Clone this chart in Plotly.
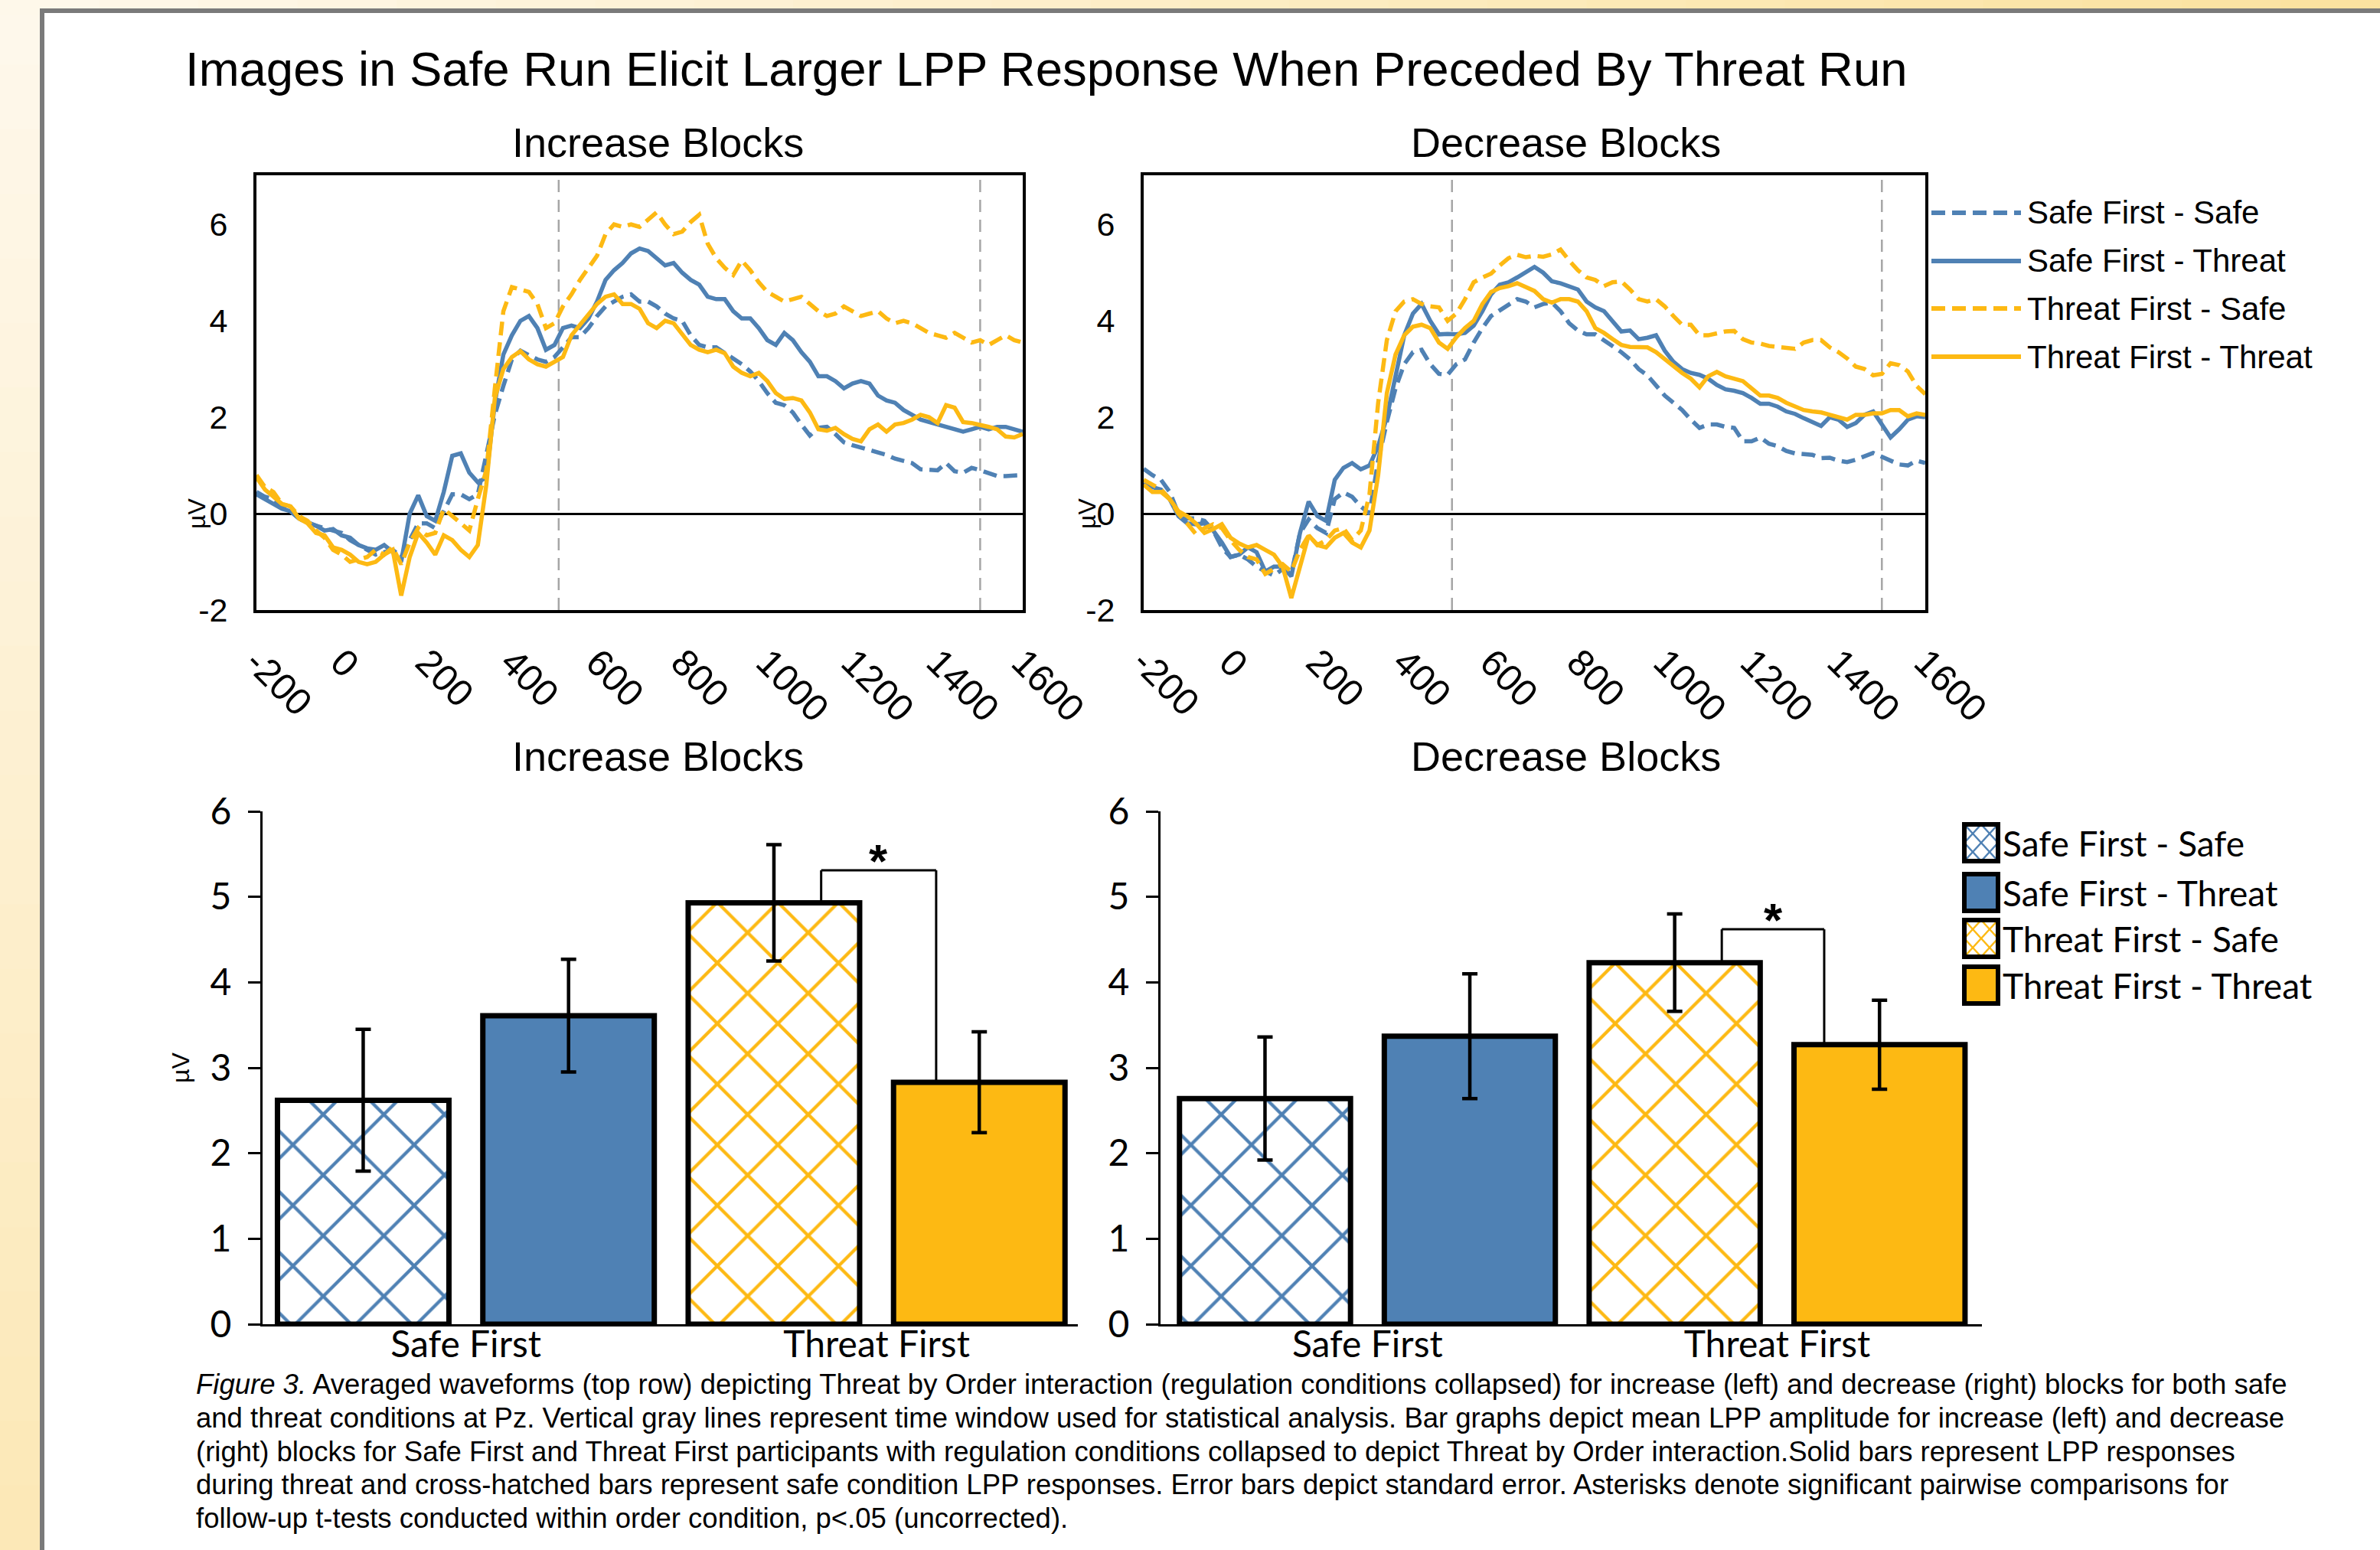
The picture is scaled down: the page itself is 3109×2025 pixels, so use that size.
import plotly.graph_objects as go

W, H = 3109, 2025


def fx(p):
    return p / W


def fy(p):
    return 1 - p / H


# ---------------- DATA ----------------
time_ms = list(range(-200, 1601, 20))
series_names = ["Safe First - Safe", "Safe First - Threat",
                "Threat First - Safe", "Threat First - Threat"]

inc_sf_safe = [0.45, 0.35, 0.30, 0.15, 0.05, -0.10, -0.20, -0.25, -0.30, -0.35,
               -0.40, -0.55, -0.65, -0.75, -0.85, -0.80, -0.75, -0.90, -0.55, -0.20,
               -0.20, -0.30, 0.05, 0.40, 0.40, 0.30, 0.40, 1.20, 2.05, 2.65,
               3.20, 3.38, 3.30, 3.20, 3.15, 3.25, 3.45, 3.66, 3.66, 3.85,
               4.10, 4.30, 4.40, 4.50, 4.55, 4.40, 4.40, 4.30, 4.15, 4.05,
               4.00, 3.70, 3.50, 3.45, 3.45, 3.33, 3.20, 3.10, 2.95, 2.75,
               2.50, 2.30, 2.25, 2.10, 1.85, 1.62, 1.78, 1.80, 1.65, 1.48,
               1.42, 1.38, 1.32, 1.27, 1.22, 1.14, 1.10, 1.05, 0.92, 0.90,
               0.90, 1.05, 0.88, 0.85, 0.95, 0.90, 0.85, 0.78, 0.78, 0.80,
               0.80]
inc_sf_threat = [0.40, 0.30, 0.22, 0.10, 0.05, -0.10, -0.18, -0.25, -0.35, -0.32,
                 -0.45, -0.50, -0.65, -0.72, -0.75, -0.65, -0.80, -1.00, 0.00, 0.38,
                 -0.05, -0.15, 0.45, 1.20, 1.25, 0.85, 0.65, 0.75, 2.30, 3.30,
                 3.70, 4.00, 4.10, 3.85, 3.40, 3.50, 3.85, 3.90, 3.85, 4.05,
                 4.40, 4.85, 5.05, 5.20, 5.40, 5.50, 5.45, 5.30, 5.15, 5.20,
                 5.00, 4.85, 4.75, 4.50, 4.45, 4.45, 4.20, 4.05, 4.05, 3.85,
                 3.60, 3.50, 3.75, 3.60, 3.35, 3.15, 2.85, 2.85, 2.75, 2.60,
                 2.70, 2.75, 2.70, 2.45, 2.35, 2.30, 2.15, 2.05, 1.95, 1.90,
                 1.85, 1.80, 1.75, 1.70, 1.75, 1.80, 1.75, 1.80, 1.80, 1.75,
                 1.70]
inc_tf_safe = [0.80, 0.55, 0.45, 0.20, 0.15, -0.05, -0.15, -0.35, -0.50, -0.75,
               -0.85, -1.00, -0.95, -0.90, -0.75, -0.85, -0.70, -1.05, -0.60, -0.30,
               -0.45, -0.40, 0.10, -0.05, -0.20, -0.35, 0.30, 0.90, 2.60, 4.20,
               4.70, 4.65, 4.60, 4.35, 3.85, 3.95, 4.30, 4.55, 4.85, 5.10,
               5.35, 5.80, 6.00, 5.95, 6.00, 5.95, 6.10, 6.25, 6.00, 5.80,
               5.85, 6.05, 6.20, 5.60, 5.30, 5.10, 4.95, 5.25, 5.05, 4.80,
               4.60, 4.50, 4.40, 4.45, 4.50, 4.35, 4.20, 4.10, 4.15, 4.30,
               4.20, 4.10, 4.15, 4.20, 4.05, 3.95, 4.00, 3.95, 3.85, 3.75,
               3.70, 3.65, 3.75, 3.65, 3.55, 3.60, 3.50, 3.60, 3.70, 3.60,
               3.55]
inc_tf_threat = [0.75, 0.50, 0.35, 0.20, 0.15, -0.10, -0.20, -0.40, -0.45, -0.70,
                 -0.75, -0.85, -1.00, -1.05, -1.00, -0.85, -0.75, -1.70, -0.90, -0.40,
                 -0.60, -0.85, -0.45, -0.55, -0.75, -0.90, -0.65, 0.60, 2.40, 3.00,
                 3.25, 3.37, 3.20, 3.10, 3.05, 3.15, 3.25, 3.70, 3.92, 4.15,
                 4.35, 4.50, 4.55, 4.35, 4.35, 4.25, 3.95, 3.85, 4.00, 3.95,
                 3.72, 3.50, 3.40, 3.35, 3.40, 3.33, 3.05, 2.92, 2.85, 2.92,
                 2.75, 2.50, 2.38, 2.40, 2.35, 2.10, 1.75, 1.72, 1.78, 1.65,
                 1.55, 1.50, 1.75, 1.85, 1.70, 1.85, 1.88, 1.95, 2.05, 2.00,
                 1.88, 2.25, 2.20, 1.90, 1.88, 1.85, 1.80, 1.75, 1.60, 1.58,
                 1.65]

dec_sf_safe = [0.93, 0.80, 0.70, 0.45, 0.00, -0.10, -0.10, -0.15, -0.35, -0.70,
               -0.90, -0.85, -0.95, -1.10, -1.20, -1.28, -1.15, -1.25, -0.40, -0.12,
               -0.30, -0.40, 0.30, 0.44, 0.35, 0.15, 0.00, 1.10, 1.90, 2.60,
               3.10, 3.35, 3.40, 3.10, 2.90, 2.88, 3.10, 3.20, 3.55, 3.85,
               4.10, 4.22, 4.32, 4.45, 4.40, 4.28, 4.35, 4.38, 4.20, 3.95,
               3.80, 3.72, 3.72, 3.60, 3.48, 3.35, 3.20, 3.00, 2.87, 2.65,
               2.45, 2.30, 2.15, 1.95, 1.78, 1.85, 1.85, 1.80, 1.78, 1.50,
               1.50, 1.58, 1.45, 1.40, 1.30, 1.25, 1.23, 1.22, 1.15, 1.16,
               1.10, 1.07, 1.12, 1.20, 1.26, 1.18, 1.10, 1.02, 1.00, 1.10,
               1.05]
dec_sf_threat = [0.63, 0.55, 0.50, 0.30, -0.05, -0.20, -0.22, -0.20, -0.35, -0.60,
                 -0.90, -0.85, -0.70, -0.80, -1.20, -1.10, -1.10, -1.30, -0.40, 0.25,
                 -0.05, -0.15, 0.70, 0.95, 1.05, 0.92, 1.00, 1.40, 2.00, 2.90,
                 3.70, 4.15, 4.35, 4.00, 3.72, 3.73, 3.72, 3.75, 3.90, 4.20,
                 4.55, 4.75, 4.80, 4.90, 5.02, 5.12, 5.00, 4.82, 4.78, 4.72,
                 4.65, 4.40, 4.28, 4.20, 4.00, 3.78, 3.80, 3.62, 3.65, 3.70,
                 3.38, 3.15, 3.00, 2.92, 2.88, 2.80, 2.67, 2.58, 2.55, 2.50,
                 2.40, 2.28, 2.28, 2.22, 2.12, 2.07, 1.98, 1.90, 1.82, 2.00,
                 1.95, 1.80, 1.88, 2.05, 2.12, 1.85, 1.58, 1.75, 1.95, 2.02,
                 2.00]
dec_tf_safe = [0.70, 0.60, 0.50, 0.30, 0.00, -0.20, -0.42, -0.30, -0.22, -0.30,
               -0.55, -0.75, -0.90, -0.95, -1.25, -1.15, -1.05, -1.20, -0.75, -0.45,
               -0.65, -0.55, -0.35, -0.30, -0.55, -0.35, 0.40, 2.30, 3.60, 4.20,
               4.40, 4.45, 4.35, 4.30, 4.28, 4.00, 4.15, 4.45, 4.80, 4.90,
               4.98, 5.15, 5.30, 5.37, 5.32, 5.35, 5.33, 5.38, 5.48, 5.25,
               5.05, 4.90, 4.85, 4.72, 4.80, 4.82, 4.65, 4.45, 4.40, 4.45,
               4.30, 4.10, 3.92, 3.92, 3.70, 3.70, 3.75, 3.78, 3.79, 3.62,
               3.55, 3.53, 3.48, 3.46, 3.45, 3.42, 3.55, 3.60, 3.60, 3.45,
               3.35, 3.22, 3.05, 3.00, 2.87, 2.90, 3.12, 3.08, 2.95, 2.65,
               2.48]
dec_tf_threat = [0.60, 0.45, 0.45, 0.30, 0.05, -0.05, -0.20, -0.40, -0.32, -0.22,
                 -0.50, -0.62, -0.70, -0.65, -0.75, -0.85, -1.10, -1.75, -1.10, -0.45,
                 -0.65, -0.70, -0.50, -0.40, -0.60, -0.70, -0.35, 0.80, 2.50, 3.30,
                 3.70, 3.88, 3.92, 3.85, 3.55, 3.42, 3.66, 3.85, 4.00, 4.35,
                 4.60, 4.68, 4.72, 4.78, 4.70, 4.62, 4.45, 4.38, 4.45, 4.45,
                 4.40, 4.20, 3.85, 3.75, 3.62, 3.50, 3.46, 3.46, 3.45, 3.35,
                 3.20, 3.05, 2.92, 2.80, 2.62, 2.85, 2.94, 2.85, 2.80, 2.75,
                 2.60, 2.45, 2.45, 2.40, 2.30, 2.22, 2.15, 2.12, 2.10, 2.05,
                 2.00, 1.95, 2.05, 2.05, 2.08, 2.08, 2.15, 2.15, 2.02, 2.08,
                 2.05]

analysis_window_ms = [510, 1500]
wave_xticks = [-200, 0, 200, 400, 600, 800, 1000, 1200, 1400, 1600]
wave_yticks = [-2, 0, 2, 4, 6]

order_groups = ["Safe First", "Threat First"]
inc_means = [2.62, 3.61, 4.93, 2.83]
inc_se = [0.83, 0.66, 0.68, 0.59]
dec_means = [2.64, 3.37, 4.23, 3.27]
dec_se = [0.72, 0.73, 0.57, 0.52]
bar_yticks = [0, 1, 2, 3, 4, 5, 6]

inc_waves = [inc_sf_safe, inc_sf_threat, inc_tf_safe, inc_tf_threat]
dec_waves = [dec_sf_safe, dec_sf_threat, dec_tf_safe, dec_tf_threat]
for arr in inc_waves + dec_waves:
    assert len(arr) == len(time_ms), len(arr)

# ---------------- STYLE ----------------
BLUE = "#4F81B4"
GOLD = "#FDB913"
colors = [BLUE, BLUE, GOLD, GOLD]
is_safe = [True, False, True, False]
ARIAL = "Liberation Sans, Arial, sans-serif"
CALIBRI = "Lato, Carlito, Calibri, sans-serif"
DASH = "18px,9px"

fig = go.Figure()

# waveform traces
for waves, xa, ya in [(inc_waves, "x", "y"), (dec_waves, "x2", "y2")]:
    for i, vals in enumerate(waves):
        fig.add_trace(go.Scatter(
            x=time_ms, y=vals, mode="lines", name=series_names[i],
            line=dict(color=colors[i], width=5.5, dash=DASH if is_safe[i] else "solid"),
            xaxis=xa, yaxis=ya, showlegend=False, hoverinfo="skip"))

# bar traces
bar_pos = [0, 1, 2, 3]
for means, se, xa, ya in [(inc_means, inc_se, "x3", "y3"), (dec_means, dec_se, "x4", "y4")]:
    for i in range(4):
        marker = dict(color=colors[i], line=dict(color="black", width=7))
        if is_safe[i]:
            marker["pattern"] = dict(shape="x", fgcolor=colors[i], bgcolor="white",
                                     size=56, solidity=0.15, fillmode="replace")
        fig.add_trace(go.Bar(
            x=[bar_pos[i]], y=[means[i]], width=0.835, name=series_names[i],
            marker=marker,
            error_y=dict(type="data", array=[se[i]], color="black", thickness=4.5, width=10),
            xaxis=xa, yaxis=ya, showlegend=False, hoverinfo="skip"))

shapes = []
annotations = []


def hex_mix(c1, c2, t):
    a = [int(c1[k:k + 2], 16) for k in (1, 3, 5)]
    b = [int(c2[k:k + 2], 16) for k in (1, 3, 5)]
    return "#" + "".join("%02X" % round(a[j] + (b[j] - a[j]) * t) for j in range(3))


# background gradient strips
NSEG = 24
for k in range(NSEG):
    t = (k + 0.5) / NSEG
    shapes.append(dict(type="rect", xref="paper", yref="paper", layer="below",
                       x0=fx(0), x1=fx(60), y0=fy(H * k / NSEG), y1=fy(H * (k + 1) / NSEG + 1),
                       fillcolor=hex_mix("#FEF8EC", "#FCE8B6", t), line=dict(width=0)))
    shapes.append(dict(type="rect", xref="paper", yref="paper", layer="below",
                       x0=fx(W * k / NSEG), x1=fx(W * (k + 1) / NSEG + 1), y0=fy(0), y1=fy(20),
                       fillcolor=hex_mix("#FEF8EC", "#FBE29E", t), line=dict(width=0)))
# white panel with gray border
shapes.append(dict(type="rect", xref="paper", yref="paper", layer="below",
                   x0=fx(55), x1=fx(W + 40), y0=fy(14), y1=fy(H + 40),
                   fillcolor="white", line=dict(color="#7A7A7A", width=6)))

# analysis window lines
for xa, ya in [("x", "y"), ("x2", "y2")]:
    for t in analysis_window_ms:
        shapes.append(dict(type="line", xref=xa, yref=ya,
                           x0=t, x1=t, y0=-2, y1=7.02, layer="below",
                           line=dict(color="#A6A6A6", width=2.5, dash="16px,10px")))

# significance brackets
for means, xa, ya, xl, xr, yb in [(inc_means, "x3", "y3", 2.23, 2.79, 5.31),
                                   (dec_means, "x4", "y4", 2.23, 2.73, 4.62)]:
    for (xa0, ya0, xa1, ya1) in [(xl, means[2], xl, yb), (xl, yb, xr, yb), (xr, yb, xr, means[3])]:
        shapes.append(dict(type="line", xref=xa, yref=ya, x0=xa0, y0=ya0, x1=xa1, y1=ya1,
                           layer="above", line=dict(color="black", width=3)))
    annotations.append(dict(text="<b>*</b>", x=(xl + xr) / 2, y=yb, xref=xa, yref=ya,
                            showarrow=False, yanchor="bottom", yshift=-24,
                            font=dict(family=ARIAL, size=62, color="black")))

# manual line legend (waveforms)
line_rows = [278, 341, 403, 466]
for i, name in enumerate(series_names):
    yy = fy(line_rows[i])
    shapes.append(dict(type="line", xref="paper", yref="paper", x0=fx(2523), x1=fx(2640),
                       y0=yy, y1=yy, layer="above",
                       line=dict(color=colors[i], width=6,
                                 dash=DASH if is_safe[i] else "solid")))
    annotations.append(dict(text=name, x=fx(2646), y=yy, xref="paper", yref="paper",
                            xanchor="left", yanchor="middle", showarrow=False,
                            font=dict(family=ARIAL, size=42, color="black")))

# manual bar legend
bar_rows = [1101, 1166, 1226, 1287]
bx0, bx1 = 2566, 2610
for i, name in enumerate(series_names):
    yc = bar_rows[i]
    y0, y1 = yc - 24, yc + 24
    fill = "white" if is_safe[i] else colors[i]
    shapes.append(dict(type="rect", xref="paper", yref="paper", x0=fx(bx0), x1=fx(bx1),
                       y0=fy(y0), y1=fy(y1), fillcolor=fill, layer="above",
                       line=dict(width=0)))
    if is_safe[i]:
        xm = (bx0 + bx1) / 2
        segs = [((bx0, y0), (bx1, y1)), ((bx0, y1), (bx1, y0)),
                ((xm, y0), (bx1, yc)), ((bx1, yc), (xm, y1)),
                ((xm, y1), (bx0, yc)), ((bx0, yc), (xm, y0))]
        for (a, b) in segs:
            shapes.append(dict(type="line", xref="paper", yref="paper", layer="above",
                               x0=fx(a[0]), y0=fy(a[1]), x1=fx(b[0]), y1=fy(b[1]),
                               line=dict(color=colors[i], width=2.5)))
    shapes.append(dict(type="rect", xref="paper", yref="paper", x0=fx(bx0), x1=fx(bx1),
                       y0=fy(y0), y1=fy(y1), layer="above",
                       line=dict(color="black", width=6)))
    annotations.append(dict(text=name, x=fx(2614), y=fy(yc), xref="paper", yref="paper",
                            xanchor="left", yanchor="middle", showarrow=False,
                            font=dict(family=CALIBRI, size=46, color="black")))

# titles
annotations.append(dict(text="Images in Safe Run Elicit Larger LPP Response When Preceded By Threat Run",
                        x=fx(240), y=fy(90), xref="paper", yref="paper", xanchor="left",
                        yanchor="middle", showarrow=False,
                        font=dict(family=ARIAL, size=63.5, color="black")))
for txt, xc, yc in [("Increase Blocks", 859, 186), ("Decrease Blocks", 2045, 186),
                    ("Increase Blocks", 859, 988), ("Decrease Blocks", 2045, 988)]:
    annotations.append(dict(text=txt, x=fx(xc), y=fy(yc), xref="paper", yref="paper",
                            xanchor="center", yanchor="middle", showarrow=False,
                            font=dict(family=ARIAL, size=54, color="black")))

# µV labels
for xp, ya, yv in [(257, "y", 0), (1420, "y2", 0), (236, "y3", 3)]:
    annotations.append(dict(text="µV", x=fx(xp), y=yv, xref="paper", yref=ya,
                            textangle=-90, showarrow=False, xanchor="center", yanchor="middle",
                            font=dict(family=ARIAL, size=32, color="black")))

# caption
caption_lines = [
    "<i>Figure 3.</i> Averaged waveforms (top row) depicting Threat by Order interaction (regulation conditions collapsed) for increase (left) and decrease (right) blocks for both safe",
    "and threat conditions at Pz. Vertical gray lines represent time window used for statistical analysis. Bar graphs depict mean LPP amplitude for increase (left) and decrease",
    "(right) blocks for Safe First and Threat First participants with regulation conditions collapsed to depict Threat by Order interaction.Solid bars represent LPP responses",
    "during threat and cross-hatched bars represent safe condition LPP responses. Error bars depict standard error. Asterisks denote significant pairwise comparisons for",
    "follow-up t-tests conducted within order condition, p&lt;.05 (uncorrected).",
]
cap_rows = [1808, 1852, 1896, 1939, 1983]
for line, yy in zip(caption_lines, cap_rows):
    annotations.append(dict(text=line, x=fx(254), y=fy(yy), xref="paper", yref="paper",
                            xanchor="left", yanchor="middle", showarrow=False,
                            font=dict(family=ARIAL, size=36.5, color="black")))

# ---------------- AXES ----------------
wave_x_common = dict(range=[-200, 1600], tickmode="array", tickvals=wave_xticks,
                     ticktext=[str(v) for v in wave_xticks], tickangle=45,
                     showline=True, mirror=True, linecolor="black", linewidth=4,
                     zeroline=False, showgrid=False, ticks="", ticklabelstandoff=16,
                     automargin=False,
                     tickfont=dict(family=ARIAL, size=49, color="black"))
wave_y_common = dict(range=[-2, 7.02], tickmode="array", tickvals=wave_yticks,
                     ticktext=[str(v) for v in wave_yticks],
                     showline=True, mirror=True, linecolor="black", linewidth=4,
                     zeroline=True, zerolinecolor="black", zerolinewidth=3,
                     showgrid=False, ticks="", ticklabelstandoff=25, automargin=False,
                     tickfont=dict(family=ARIAL, size=43, color="black"))
bar_x_common = dict(tickmode="array", tickvals=[0.5, 2.5], ticktext=order_groups,
                    showline=True, linecolor="black", linewidth=3, zeroline=False,
                    showgrid=False, ticks="", ticklabelstandoff=-18, automargin=False,
                    tickfont=dict(family=CALIBRI, size=48, color="black"))
bar_y_common = dict(range=[0, 6], tickmode="array", tickvals=bar_yticks,
                    showline=True, linecolor="black", linewidth=3, zeroline=False,
                    showgrid=False, ticks="outside", ticklen=16, tickwidth=3, tickcolor="black",
                    ticklabelstandoff=12, automargin=False,
                    tickfont=dict(family=CALIBRI, size=48, color="black"))

fig.update_layout(
    width=W, height=H, margin=dict(l=0, r=0, t=0, b=0, pad=0, autoexpand=False),
    autosize=False,
    paper_bgcolor="#FCEBC0", plot_bgcolor="white",
    showlegend=False, barmode="overlay",
    xaxis=dict(domain=[fx(335), fx(1336)], anchor="y", **wave_x_common),
    yaxis=dict(domain=[fy(797), fy(229)], anchor="x", **wave_y_common),
    xaxis2=dict(domain=[fx(1494), fx(2515)], anchor="y2", **wave_x_common),
    yaxis2=dict(domain=[fy(797), fy(229)], anchor="x2", **wave_y_common),
    xaxis3=dict(domain=[fx(343), fx(1408)], range=[-0.49, 3.48], anchor="y3", **bar_x_common),
    yaxis3=dict(domain=[fy(1730), fy(1060)], anchor="x3", **bar_y_common),
    xaxis4=dict(domain=[fx(1516), fx(2589)], range=[-0.51, 3.50], anchor="y4", **bar_x_common),
    yaxis4=dict(domain=[fy(1730), fy(1060)], anchor="x4", **bar_y_common),
    shapes=shapes, annotations=annotations,
)

fig.write_html("out.html",
               config={"responsive": False, "displayModeBar": False},
               post_script="document.body.style.margin='0px';document.body.style.overflow='hidden';")
